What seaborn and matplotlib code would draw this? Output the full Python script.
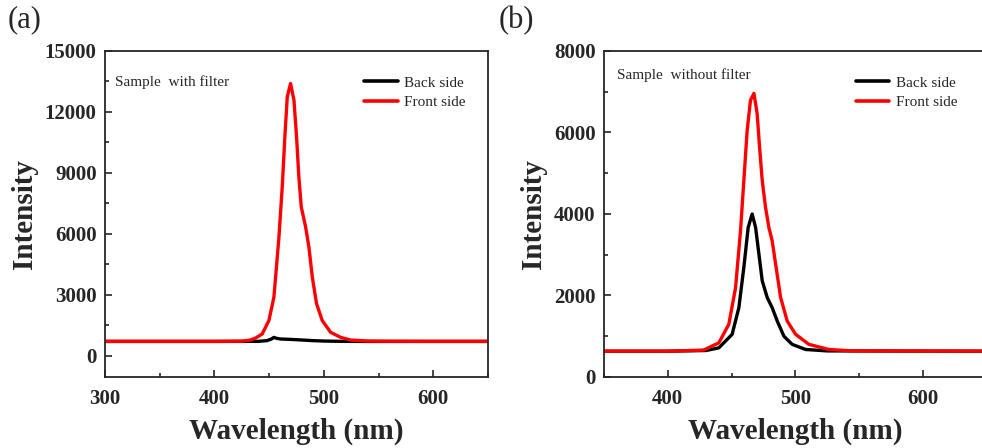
import matplotlib

matplotlib.use("Agg")

import matplotlib.pyplot as plt
import pandas as pd
import seaborn as sns
from matplotlib.ticker import MultipleLocator


# panel (a): sample with filter
A_WL_BACK = [300, 400, 440, 448, 452, 454.3, 457, 460.4, 470, 480, 490, 500, 515, 540, 650]
A_BACK = [700, 700, 705, 740, 820, 900, 850, 820, 800, 770, 740, 720, 705, 700, 700]
A_WL_FRONT = [300, 400, 425, 433, 438, 443.6, 449.7, 454.3, 458.9, 461.9, 464.3, 466.5,
              469.5, 472.6, 475, 477.1, 479.3, 483.3, 486.3, 489.4, 493.3, 498.5,
              506.1, 515.3, 524.4, 540, 560, 600, 650]
A_FRONT = [705, 705, 715, 770, 880, 1070, 1727, 2880, 5840, 8300, 10770, 12740,
           13400, 12580, 10770, 8800, 7320, 6330, 5340, 3860, 2550, 1727,
           1150, 900, 770, 720, 710, 705, 705]

# panel (b): sample without filter
B_WL_BACK = [350, 400, 430, 440, 450.4, 455.7, 459.6, 463, 466.1, 468.8, 471.4, 474,
             477.9, 481.8, 485.8, 491, 497.5, 508, 525, 650]
B_BACK = [633, 633, 650, 715, 1045, 1700, 2690, 3670, 4000, 3670, 3015, 2360,
          1950, 1700, 1370, 1000, 800, 675, 640, 633]
B_WL_FRONT = [350, 400, 428, 440, 447.8, 453.1, 457, 459.6, 462.2, 464.8, 467.5, 470,
              471.9, 474, 476.6, 479.2, 481.8, 484.5, 488.4, 493.6, 500.2, 510.6,
              526.3, 545, 650]
B_FRONT = [633, 633, 660, 838, 1290, 2190, 3590, 4820, 6050, 6790, 6960, 6470,
           5640, 4820, 4160, 3670, 3340, 2770, 1950, 1370, 1045, 800,
           675, 640, 633]

SERIES = ["Back side", "Front side"]
COLORS = {"Back side": "black", "Front side": "#ff0000"}


def make_frame(wl_back, back, wl_front, front):
    return pd.concat([
        pd.DataFrame({"wl": wl_back, "val": back, "side": "Back side"}),
        pd.DataFrame({"wl": wl_front, "val": front, "side": "Front side"}),
    ], ignore_index=True)


def style_axis(ax, xlim, ylim, xmaj, ymaj, legend_x):
    ax.set_xlim(*xlim)
    ax.set_ylim(*ylim)
    ax.xaxis.set_major_locator(MultipleLocator(xmaj))
    ax.xaxis.set_minor_locator(MultipleLocator(xmaj / 2))
    ax.yaxis.set_major_locator(MultipleLocator(ymaj))
    ax.yaxis.set_minor_locator(MultipleLocator(ymaj / 2))
    ax.tick_params(which="both", direction="in", top=False, right=False, width=1.2)
    ax.tick_params(which="major", length=5, labelsize=15)
    ax.tick_params(axis="x", which="major", pad=9)
    ax.tick_params(axis="y", which="major", pad=6)
    ax.tick_params(which="minor", length=3)
    for lab in ax.get_xticklabels() + ax.get_yticklabels():
        lab.set_fontweight("bold")
    for sp in ax.spines.values():
        sp.set_linewidth(1.3)
        sp.set_visible(True)
    ax.set_xlabel("Wavelength (nm)", fontsize=21, fontweight="bold", labelpad=6)
    ax.set_ylabel("Intensity", fontsize=21, fontweight="bold", labelpad=5)
    handles = [plt.Line2D([], [], color=COLORS[s], lw=2.6) for s in SERIES]
    ax.legend(handles, SERIES, loc="upper right", bbox_to_anchor=(legend_x, 0.965),
              frameon=False, fontsize=11, handlelength=2.2, handletextpad=0.4,
              labelspacing=0.35)


def main():
    sns.set_style("ticks")
    plt.rcParams["font.family"] = ["Liberation Serif", "DejaVu Serif"]

    fig = plt.figure(figsize=(9.82, 4.48), dpi=100)
    ax1 = fig.add_axes([0.107, 0.1585, 0.390, 0.7277])
    ax2 = fig.add_axes([0.615, 0.1585, 0.390, 0.7277])

    df_a = make_frame(A_WL_BACK, A_BACK, A_WL_FRONT, A_FRONT)
    df_b = make_frame(B_WL_BACK, B_BACK, B_WL_FRONT, B_FRONT)

    for ax, df in [(ax1, df_a), (ax2, df_b)]:
        sns.lineplot(data=df, x="wl", y="val", hue="side", hue_order=SERIES,
                     palette=COLORS, linewidth=2.4, sort=False, legend=False,
                     estimator=None, ax=ax)

    style_axis(ax1, (300, 650), (-1050, 15000), 100, 3000, 0.976)
    style_axis(ax2, (350, 650), (0, 8000), 100, 2000, 0.958)

    ax1.text(0.027, 0.905, "Sample  with filter", transform=ax1.transAxes,
             fontsize=11, va="center", ha="left")
    ax2.text(0.035, 0.925, "Sample  without filter", transform=ax2.transAxes,
             fontsize=11, va="center", ha="left")

    fig.text(0.008, 0.955, "(a)", fontsize=22, va="center", ha="left")
    fig.text(0.508, 0.955, "(b)", fontsize=22, va="center", ha="left")

    fig.savefig("out.png", dpi=100)
    plt.close(fig)


if __name__ == "__main__":
    main()
